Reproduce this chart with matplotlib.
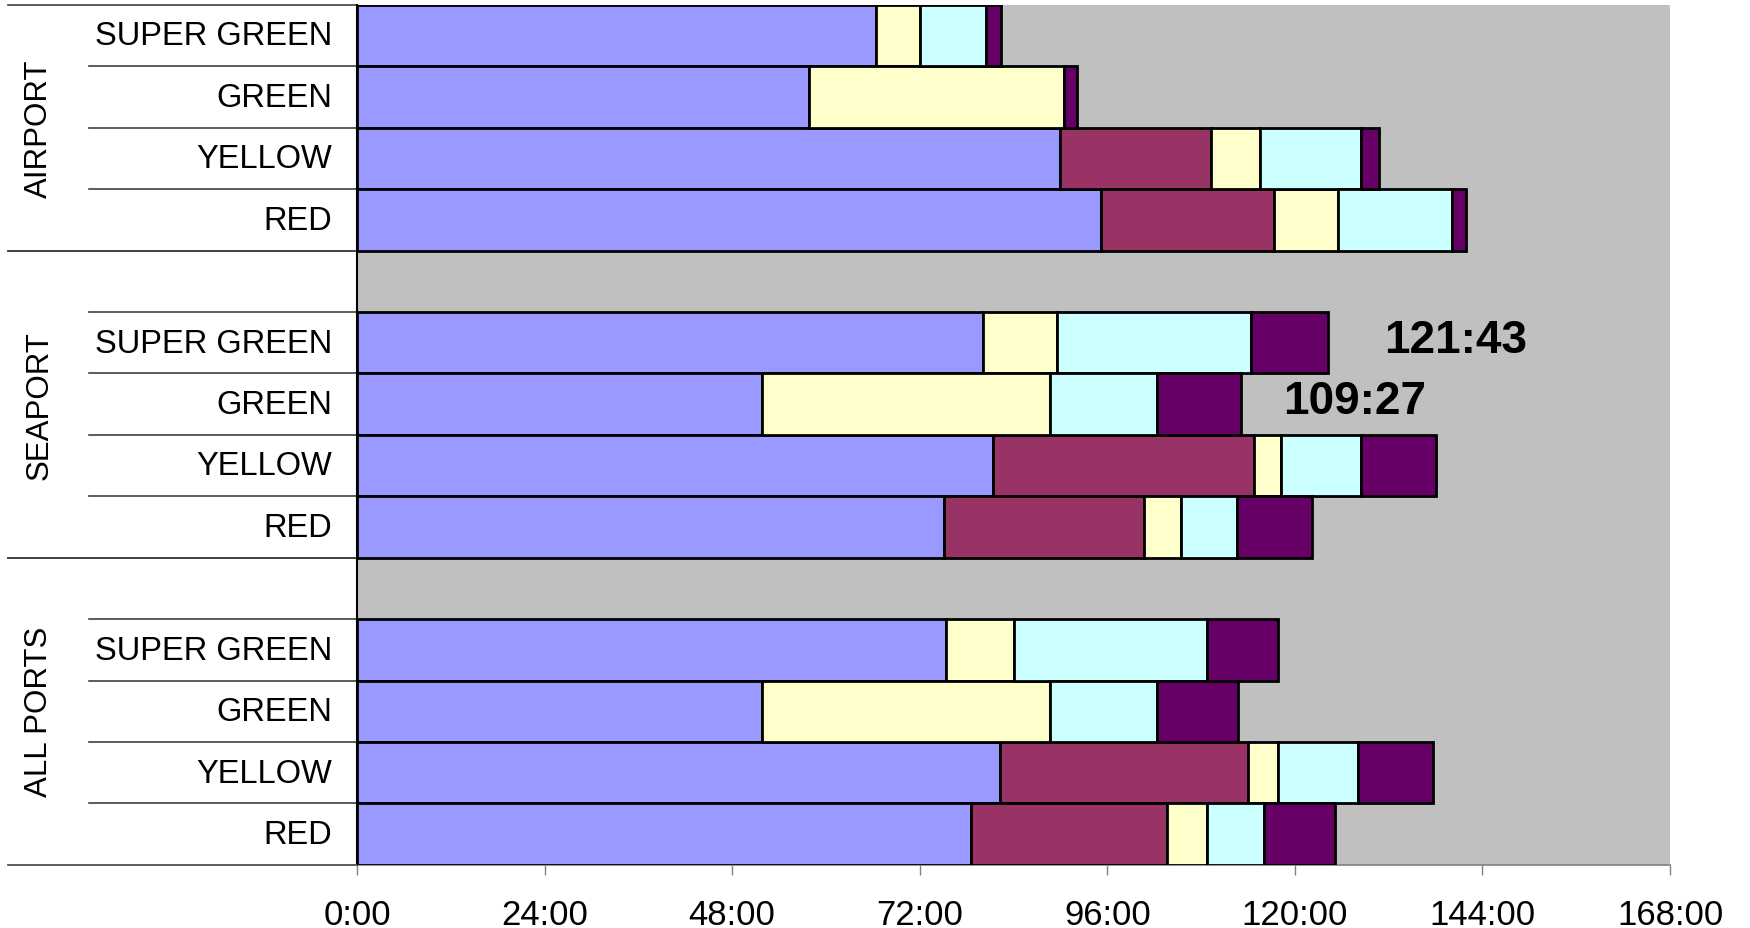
import numpy as np
import matplotlib
matplotlib.use("Agg")
import matplotlib.pyplot as plt
import matplotlib.transforms as mtransforms

plt.rcParams["font.family"] = ["Liberation Sans", "DejaVu Sans"]

# --- data (hours) ---
GROUPS = ["AIRPORT", "SEAPORT", "ALL PORTS"]
CATEGORIES = ["SUPER GREEN", "GREEN", "YELLOW", "RED"]

# each row: [SUPER GREEN, GREEN, YELLOW, RED]
blue_airport = [66.4, 57.8, 90.0, 95.15]
maroon_airport = [0, 0, 19.3, 22.2]
yellow_airport = [5.6, 32.6, 6.3, 8.15]
cyan_airport = [8.5, 0, 12.8, 14.6]
purple_airport = [1.85, 1.75, 2.3, 1.8]

blue_seaport = [80.1, 51.8, 81.35, 75.05]
maroon_seaport = [0, 0, 33.4, 25.65]
yellow_seaport = [9.5, 36.9, 3.45, 4.7]
cyan_seaport = [24.75, 13.7, 10.2, 7.25]
purple_seaport = [9.85, 10.65, 9.65, 9.5]

blue_all = [75.35, 51.8, 82.25, 78.5]
maroon_all = [0, 0, 31.7, 25.15]
yellow_all = [8.65, 36.9, 3.85, 5.15]
cyan_all = [24.8, 13.6, 10.3, 7.25]
purple_all = [9.0, 10.45, 9.55, 9.1]

X_TICKS = [0, 24, 48, 72, 96, 120, 144, 168]
X_LABELS = ["0:00", "24:00", "48:00", "72:00", "96:00", "120:00", "144:00", "168:00"]

# annotations: (text, hours, group, category)
NOTES = [("121:43", 140.6, "SEAPORT", "SUPER GREEN"),
         ("109:27", 127.7, "SEAPORT", "GREEN")]

COLORS = ["#9999FF", "#993366", "#FFFFCC", "#CCFFFF", "#660066"]

series = {
    "AIRPORT": [blue_airport, maroon_airport, yellow_airport, cyan_airport, purple_airport],
    "SEAPORT": [blue_seaport, maroon_seaport, yellow_seaport, cyan_seaport, purple_seaport],
    "ALL PORTS": [blue_all, maroon_all, yellow_all, cyan_all, purple_all],
}

# slot layout from top: 4 airport rows, gap, 4 seaport rows, gap, 4 all-ports rows
slot = {}
for gi, g in enumerate(GROUPS):
    for ci, c in enumerate(CATEGORIES):
        slot[(g, c)] = gi * 5 + ci

fig = plt.figure(figsize=(17.5, 9.29), dpi=100)
ax = fig.add_axes([0.204, 0.068, 0.7503, 0.9257])
ax.set_facecolor("#C0C0C0")

for g in GROUPS:
    ys = [slot[(g, c)] for c in CATEGORIES]
    left = np.zeros(len(CATEGORIES))
    for vals, col in zip(series[g], COLORS):
        vals = np.array(vals, dtype=float)
        m = vals > 0
        ax.barh(np.array(ys)[m], vals[m], left=left[m], height=1.0,
                color=col, edgecolor="black", linewidth=2.0, zorder=3)
        left += vals

for txt, xh, g, c in NOTES:
    ax.text(xh, slot[(g, c)] - 0.05, txt, ha="center", va="center",
            fontsize=33, fontweight="bold", zorder=4)

ax.set_xlim(0, 168)
ax.set_ylim(13.5, -0.5)
ax.set_xticks(X_TICKS)
ax.set_xticklabels(X_LABELS, fontsize=25)
ax.tick_params(axis="x", direction="out", length=7, width=1, color="#808080", pad=17)

ys = [slot[k] for k in slot]
ax.set_yticks([y - 0.05 for y in ys])
ax.set_yticklabels([k[1] for k in slot], fontsize=23.5)
ax.tick_params(axis="y", length=0, pad=18)

for s in ["top", "right"]:
    ax.spines[s].set_visible(False)
ax.spines["left"].set_color("black")
ax.spines["left"].set_linewidth(1.5)
ax.spines["bottom"].set_color("#808080")
ax.spines["bottom"].set_linewidth(1.2)

# multi-level category axis: separator lines and group labels
tr = mtransforms.blended_transform_factory(ax.transAxes, ax.transData)
x_short, x_long = -0.204, -0.266
for gi, g in enumerate(GROUPS):
    top = gi * 5 - 0.5 if gi == 0 else gi * 5 - 1.5
    bottom = gi * 5 + 3.5
    ax.plot([x_long, 0], [top, top], color="#404040", lw=1.2, transform=tr, clip_on=False)
    for k in range(4):
        y = gi * 5 + k - 0.5
        if y != top:
            ax.plot([x_short, 0], [y, y], color="#404040", lw=1.2, transform=tr, clip_on=False)
    ax.plot([x_long, 0], [bottom, bottom], color="#404040", lw=1.2, transform=tr, clip_on=False)
    ax.text(-0.242, (top + bottom) / 2, g, rotation=90, ha="center", va="center",
            fontsize=22.5, transform=tr)

fig.savefig("out.png", dpi=100)
